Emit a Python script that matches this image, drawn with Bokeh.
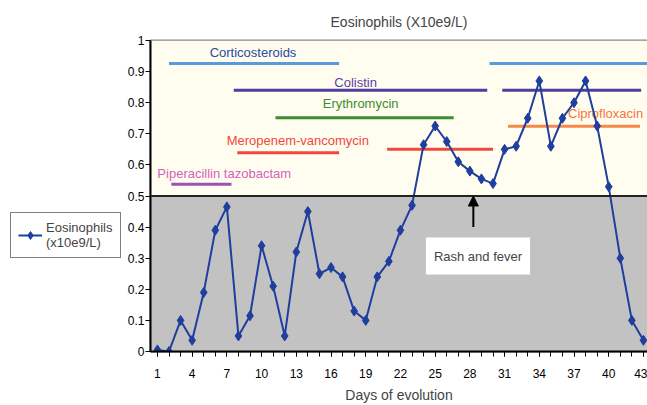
from bokeh.plotting import figure
from bokeh.layouts import row
from bokeh.models import (ColumnDataSource, FixedTicker, CustomJSTickFormatter, BoxAnnotation,
                          Span, Label, Arrow, NormalHead, Legend, LegendItem, Range1d)
from bokeh.core.properties import value
from bokeh.embed import file_html
from bokeh.resources import INLINE

# ---- data ----
days = list(range(1, 44))
eosinophils = [0.005, 0.0, 0.10, 0.036, 0.19, 0.39, 0.465, 0.05, 0.115, 0.34,
               0.21, 0.05, 0.32, 0.45, 0.25, 0.27, 0.24, 0.13, 0.10, 0.24,
               0.29, 0.39, 0.47, 0.665, 0.725, 0.675, 0.61, 0.58, 0.555, 0.54,
               0.65, 0.66, 0.75, 0.87, 0.66, 0.75, 0.80, 0.87, 0.725, 0.53,
               0.30, 0.10, 0.036]

drug_names = ["Corticosteroids", "Corticosteroids", "Colistin", "Colistin", "Erythromycin",
              "Meropenem-vancomycin", "Meropenem-vancomycin", "Piperacillin tazobactam",
              "Ciprofloxacin"]
drug_start = [2.0, 29.7, 7.6, 30.8, 11.2, 7.9, 20.85, 2.2, 31.3]
drug_end = [16.7, 44.0, 29.5, 42.8, 26.6, 16.7, 30.0, 7.4, 42.7]
drug_level = [0.926, 0.926, 0.84, 0.84, 0.752, 0.639, 0.65, 0.538, 0.724]
drug_color = ["#5b9bd5", "#5b9bd5", "#4f3d9e", "#4f3d9e", "#3f8c2e",
              "#f2473f", "#f2473f", "#9a52b4", "#f5894a"]

label_names = ["Corticosteroids", "Colistin", "Erythromycin", "Meropenem-vancomycin",
               "Piperacillin tazobactam", "Ciprofloxacin"]
label_x = [9.26, 18.13, 18.56, 13.13, 6.77, 39.73]
label_y = [0.962, 0.865, 0.798, 0.679, 0.571, 0.766]
label_color = ["#2b4aa3", "#5a3fa6", "#3f8c2e", "#f2473f", "#d563b8", "#f5763f"]

x_ticks = list(range(1, 44, 3))
y_ticks = [0, 0.1, 0.2, 0.3, 0.4, 0.5, 0.6, 0.7, 0.8, 0.9, 1.0]
event_day = 28.3
event_label_day = 28.7
event_label_level = 0.307

FONT = "Liberation Sans"
SERIES_COLOR = "#1f3e9e"

p = figure(width=523, height=405, output_backend="svg", toolbar_location=None,
           x_range=Range1d(0.4, 43.35), y_range=Range1d(0, 1),
           min_border_left=25, min_border_right=0, min_border_top=40, min_border_bottom=53,
           background_fill_color="white", border_fill_color="white",
           title="Eosinophils (X10e9/L)")
p.title.align = "center"
p.title.text_font = FONT
p.title.text_font_size = "14px"
p.title.text_font_style = "normal"
p.title.standoff = 21

p.outline_line_color = "#888888"
p.outline_line_width = 2
p.grid.visible = False

p.add_layout(BoxAnnotation(bottom=0, top=0.5, fill_color="#c2c2c2", fill_alpha=1, line_alpha=0, level="underlay"))
p.add_layout(BoxAnnotation(bottom=0.5, top=1, fill_color="#fefdf0", fill_alpha=1, line_alpha=0, level="underlay"))
p.add_layout(Span(location=0.5, dimension="width", line_color="#222222", line_width=2))

# axes
p.xaxis.ticker = FixedTicker(ticks=x_ticks, minor_ticks=days + [44])
p.yaxis.ticker = FixedTicker(ticks=y_ticks)
p.yaxis.formatter = CustomJSTickFormatter(code="return (Math.round(tick*10)/10).toString();")
for ax in (p.xaxis[0], p.yaxis[0]):
    ax.axis_line_color = "black"
    ax.axis_line_width = 2
    ax.major_tick_line_color = "black"
    ax.minor_tick_line_color = "black"
    ax.major_tick_in = 0
    ax.major_tick_out = 5
    ax.minor_tick_in = 0
    ax.minor_tick_out = 5
    ax.major_label_text_font = FONT
    ax.major_label_text_font_size = "12px"
    ax.major_label_text_color = "black"
    ax.axis_label_text_font = FONT
    ax.axis_label_text_font_style = "normal"
    ax.axis_label_text_font_size = "14px"
p.yaxis.minor_tick_line_color = None
p.xaxis.axis_label = "Days of evolution"
p.xaxis.axis_label_standoff = 6
p.xaxis.major_label_standoff = 12
p.yaxis.major_label_standoff = 1

# drug segments
dsrc = ColumnDataSource(dict(x0=drug_start, x1=drug_end, y=drug_level, color=drug_color, name=drug_names))
p.segment(x0="x0", y0="y", x1="x1", y1="y", source=dsrc, line_color="color", line_width=3)

lsrc = ColumnDataSource(dict(x=label_x, y=label_y, text=label_names, color=label_color))
p.text(x="x", y="y", text="text", source=lsrc, text_color="color", text_align="center",
       text_baseline="middle", text_font=value(FONT), text_font_size="13px")

# series
src = ColumnDataSource(dict(day=days, v=eosinophils))
p.line("day", "v", source=src, line_color=SERIES_COLOR, line_width=2)
p.scatter("day", "v", source=src, marker="diamond", size=10, fill_color=SERIES_COLOR,
          line_color=SERIES_COLOR)

# annotation
p.add_layout(Arrow(end=NormalHead(size=10, fill_color="black", line_color="black"),
                   x_start=event_day, y_start=0.40, x_end=event_day, y_end=0.5,
                   line_color="black", line_width=2))
p.add_layout(Label(x=event_label_day, y=event_label_level, text="Rash and fever", text_align="center",
                   text_baseline="middle", text_font=FONT, text_font_size="13px",
                   background_fill_color="white", background_fill_alpha=1,
                   padding=(8, 11)))

# legend panel (left of the plot); series drawn off-view, only its legend shows
lf = figure(width=124, height=405, output_backend="svg", toolbar_location=None,
            x_axis_location=None, y_axis_location=None, min_border=0,
            x_range=Range1d(1000, 1001), y_range=Range1d(1000, 1001),
            background_fill_color="white", border_fill_color="white")
lf.outline_line_color = None
lf.grid.visible = False
lr1 = lf.line("day", "v", source=src, line_color=SERIES_COLOR, line_width=2)
lr2 = lf.scatter("day", "v", source=src, marker="diamond", size=10, fill_color=SERIES_COLOR,
                 line_color=SERIES_COLOR)
legend = Legend(items=[LegendItem(label="Eosinophils\n(x10e9/L)", renderers=[lr1, lr2])],
                location=(10, 93), border_line_color="black", border_line_width=1,
                label_text_font=FONT, label_text_font_size="13px", label_text_line_height=1.5,
                glyph_width=24, padding=7, margin=0, label_standoff=4,
                background_fill_color="white")
lf.add_layout(legend)

layout = row(lf, p, spacing=0)
open("out.html", "w").write(file_html(layout, INLINE))
